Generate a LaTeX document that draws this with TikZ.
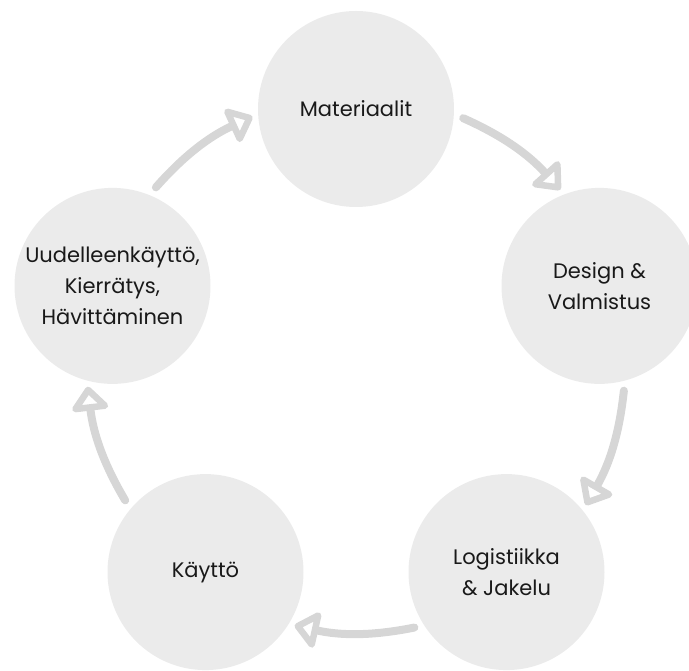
\documentclass[tikz,border=0pt]{standalone}
\usepackage{fontspec}
\setmainfont{Poppins}
\usepackage{tikz}
\usetikzlibrary{arrows.meta}
\definecolor{nodegray}{RGB}{235,235,235}
\definecolor{flowgray}{RGB}{214,214,214}
\definecolor{txtblack}{RGB}{25,25,25}
\begin{document}
\begin{tikzpicture}[
  x=1pt, y=1pt,
  font=\fontsize{21}{31}\selectfont,
  every node/.style={align=center},
  stage/.style = {circle, fill=nodegray, minimum size=196pt, inner sep=0pt, text=txtblack},
  flow/.style  = {draw=flowgray, line width=8pt, line cap=round,
                  -{Triangle[open, length=26pt, width=42pt, round]},
                  shorten <=10pt, shorten >=6pt}
]
\useasboundingbox (0,0) rectangle (689,671);
\node[stage] (mat) at (356.0,562.0) {Materiaalit};
\node[stage] (des) at (599.5,385.1) {Design \&\\Valmistus};
\node[stage] (log) at (506.5, 98.9) {Logistiikka\\\& Jakelu};
\node[stage] (kay) at (205.5, 98.9) {Käyttö};
\node[stage] (uud) at (112.5,385.1) {Uudelleenkäyttö,\\Kierrätys,\\Hävittäminen};

\draw[flow] (mat.-3.5)  to[bend left=12] (des.111.8);
\draw[flow] (des.-75.5) to[bend left=12] (log.39.8);
\draw[flow] (log.-147.5) to[bend left=12] (kay.-32.2);
\draw[flow] (kay.140.5) to[bend left=12] (uud.255.8);
\draw[flow] (uud.68.5)  to[bend left=12] (mat.183.8);
\end{tikzpicture}
\end{document}
